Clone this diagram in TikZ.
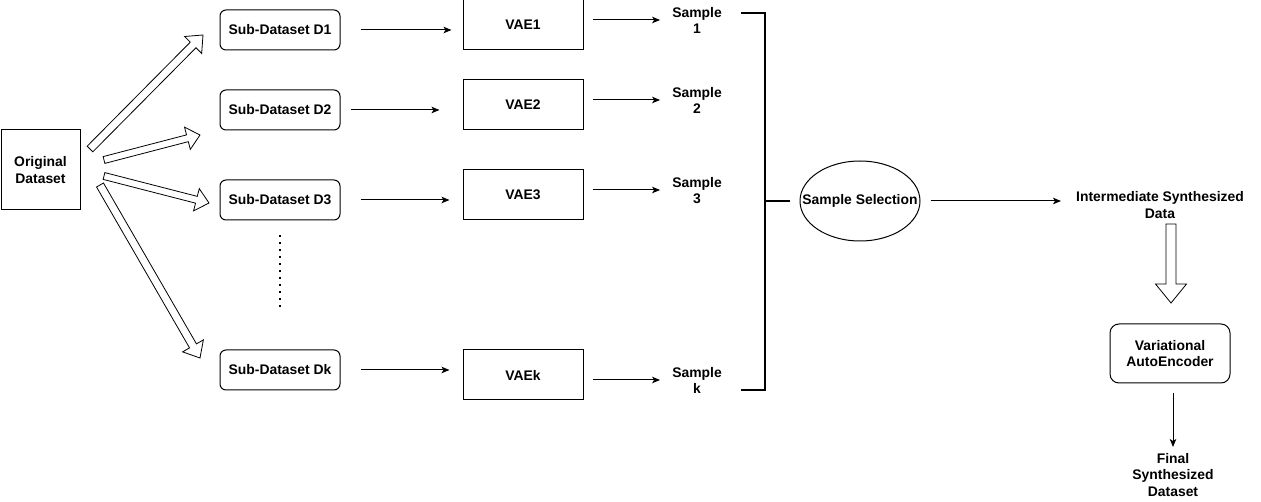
\documentclass[tikz,border=0pt]{standalone}
\usepackage{fontspec}
\setmainfont{Liberation Sans}
\usetikzlibrary{calc,arrows.meta,shapes.geometric}
\newcommand\blockarr[5]{%
  \draw[blk] let \p1=($(#2)-(#1)$), \n1={atan2(\y1,\x1)} in
    ($(#1)+(\n1+90:#3)$)
    -- ($(#2)+(\n1+180:#5)+(\n1+90:#3)$)
    -- ($(#2)+(\n1+180:#5)+(\n1+90:#4)$)
    -- (#2)
    -- ($(#2)+(\n1+180:#5)+(\n1-90:#4)$)
    -- ($(#2)+(\n1+180:#5)+(\n1-90:#3)$)
    -- ($(#1)+(\n1-90:#3)$) -- cycle;}
\begin{document}
\begin{tikzpicture}[x=1pt,y=-1pt,
  every node/.style={font=\bfseries\fontsize{13.9}{16.6}\selectfont, align=center},
  rbox/.style={draw, rounded corners=6pt, minimum width=120pt, minimum height=40pt, inner sep=0pt, line width=1pt},
  sbox/.style={draw, minimum width=120pt, minimum height=50pt, inner sep=0pt, line width=1pt},
  lbl/.style={inner sep=0pt},
  arr/.style={line width=1pt, -{Stealth[length=8pt,width=6.5pt,inset=2pt]}},
  plain/.style={line width=1.6pt},
  blk/.style={draw, line width=0.8pt, fill=white}]
\useasboundingbox (0,0) rectangle (1261,502);

% original
\node[draw, line width=1pt, minimum width=79pt, minimum height=80pt, inner sep=0pt] (orig) at (40.5,170) {Original\\Dataset};

% sub-datasets
\node[rbox] (d1) at (280,30) {Sub-Dataset D1};
\node[rbox] (d2) at (280,110) {Sub-Dataset D2};
\node[rbox] (d3) at (280,200) {Sub-Dataset D3};
\node[rbox] (dk) at (280,370) {Sub-Dataset Dk};

% VAEs
\node[sbox] (v1) at (523,25) {VAE1};
\node[sbox] (v2) at (523,105) {VAE2};
\node[sbox] (v3) at (523,195) {VAE3};
\node[sbox] (vk) at (523,375) {VAEk};

% samples
\node[lbl] (s1) at (697,20.5) {Sample\\1};
\node[lbl] (s2) at (697,100.5) {Sample\\2};
\node[lbl] (s3) at (697,190.5) {Sample\\3};
\node[lbl] (sk) at (697,380.5) {Sample\\k};

% selection
\node[draw, ellipse, line width=1pt, minimum width=120pt, minimum height=80pt, inner sep=0pt] (sel) at (860,201) {\makebox[0pt]{Sample Selection}};
\node[lbl] (inter) at (1160,205) {Intermediate Synthesized\\Data};
\node[draw, rounded corners=9pt, line width=1pt, minimum width=120pt, minimum height=59pt, inner sep=0pt] (vae) at (1170,353.5) {Variational\\AutoEncoder};
\node[lbl] (final) at (1173,475) {Final\\Synthesized\\Dataset};

% block arrows
\coordinate (t1) at (90,149);  \coordinate (h1) at (203,35);
\coordinate (t2) at (104,160); \coordinate (h2) at (200,135);
\coordinate (t3) at (104,176); \coordinate (h3) at (209,203);
\coordinate (t4) at (100,185); \coordinate (h4) at (200,358);
\coordinate (t5) at (1171,224); \coordinate (h5) at (1171,303);
\blockarr{t1}{h1}{4pt}{12pt}{14pt}
\blockarr{t2}{h2}{3.5pt}{11.5pt}{13pt}
\blockarr{t3}{h3}{3.5pt}{11.5pt}{13pt}
\blockarr{t4}{h4}{4pt}{12pt}{14pt}
\blockarr{t5}{h5}{5pt}{15.5pt}{19pt}

% dots
\coordinate (dotA) at (280,235); \coordinate (dotB) at (280,309);
\draw[line width=1.6pt, dash pattern=on 1.6pt off 5.4pt] (dotA) -- (dotB);

% sub -> vae
\draw[arr] ([xshift=20pt]d1.east) -- ([xshift=-11pt]v1.west |- d1.east);
\draw[arr] ([xshift=10pt]d2.east) -- ([xshift=-23pt]v2.west |- d2.east);
\draw[arr] ([xshift=20pt]d3.east) -- ([xshift=-13pt]v3.west |- d3.east);
\draw[arr] ([xshift=20pt]dk.east) -- ([xshift=-13pt]vk.west |- dk.east);

% vae -> sample
\draw[arr] ([xshift=9pt,yshift=5pt]v1.east) -- ([xshift=-12pt]s1.west |- 0,20);
\draw[arr] ([xshift=9pt,yshift=5pt]v2.east) -- ([xshift=-12pt]s2.west |- 0,100);
\draw[arr] ([xshift=9pt,yshift=5pt]v3.east) -- ([xshift=-12pt]s3.west |- 0,190);
\draw[arr] ([xshift=9pt,yshift=-5pt]vk.east) -- ([xshift=-12pt]sk.west |- 0,380);

% bracket
\coordinate (bt) at (741,13); \coordinate (bb) at (741,390);
\coordinate (bj) at (765,201);
\draw[plain] (bt) -- (bt -| bj) -- (bb -| bj) -- (bb);
\draw[plain] (bj) -- ([xshift=-10pt]sel.west);

% selection -> intermediate
\draw[arr] ([xshift=10pt]sel.east) -- ([xshift=-15pt]inter.west |- sel.east);

% vae -> final
\coordinate (fa) at (1173,393); \coordinate (fb) at (1173,447);
\draw[arr] (fa) -- (fb);
\end{tikzpicture}
\end{document}
